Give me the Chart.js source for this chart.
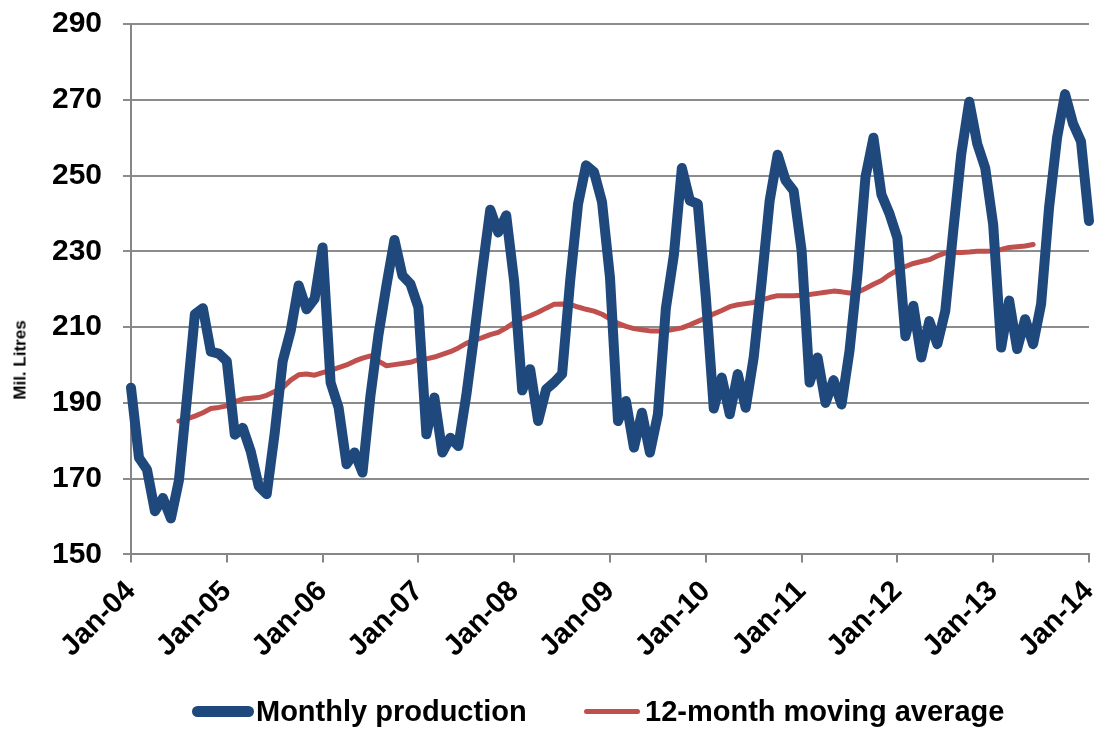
<!DOCTYPE html>
<html>
<head>
<meta charset="utf-8">
<script src="https://cdn.jsdelivr.net/npm/chart.js@4"></script>
<style>
  html, body { margin: 0; padding: 0; background: #fff; }
  #wrap { position: relative; width: 1101px; height: 731px; }
  .txt { position: absolute; font-family: 'Liberation Sans', Arial, sans-serif; font-weight: bold; color: #000; white-space: nowrap; }
  .legend { font-size: 29px; line-height: 29px; }
  .ytitle { font-size: 17px; line-height: 17px; left: 20px; top: 360px; transform: translate(-50%, -50%) rotate(-90deg); }
  .swatch { position: absolute; border-radius: 6px; }
</style>
</head>
<body>
<div id="wrap">
  <canvas id="prodChart" width="1101" height="731"></canvas>
  <span class="txt ytitle">Mil. Litres</span>
  <span class="swatch" style="left:192px; top:706px; width:62px; height:11px; background:#1f497d;"></span>
  <span class="txt legend" style="left:256px; top:697px;">Monthly production</span>
  <span class="swatch" style="left:584px; top:708.5px; width:56px; height:5px; background:#c0504d;"></span>
  <span class="txt legend" style="left:645px; top:697px;">12-month moving average</span>
</div>
<script>
// Monthly production, Jan-04 .. Jan-14
const monthNames = ['Jan','Feb','Mar','Apr','May','Jun','Jul','Aug','Sep','Oct','Nov','Dec'];
const months = [];
for (let y = 4; y <= 14; y++) {
    for (let m = 0; m < 12; m++) {
        if (y === 14 && m > 0) break;
        months.push(monthNames[m] + '-' + String(y).padStart(2, '0'));
    }
}

const production = [
    194, 175.5, 172.4, 161.4, 164.9, 159.5, 169.5, 191, 213.4, 215, 203.5, 203,
    201, 181.6, 183.4, 177.2, 168, 165.9, 182, 201, 209, 221, 214.7, 217.5,
    231, 195.4, 188.8, 173.8, 176.9, 171.6, 192, 208, 221, 233, 223.6, 221.4,
    215.2, 181.7, 191.4, 176.9, 180.8, 178.6, 192, 208, 225, 241, 235, 239.5,
    222, 193.3, 198.9, 185.2, 193.6, 195.4, 197.6, 222, 242.5, 252.7, 250.9, 243,
    223, 185.2, 190.5, 178.2, 187.4, 176.9, 187, 215, 229, 252, 243.4, 242.5,
    218, 188.5, 196.7, 187, 197.6, 188.7, 202, 222, 243.4, 255.5, 248.7, 246,
    230.2, 195.4, 202, 190, 196, 189.6, 203.7, 224, 249.6, 260, 245, 240,
    233.5, 207.6, 215.6, 202, 211.6, 205.5, 214.3, 235.5, 255.7, 269.5, 258.4, 252,
    237, 204.6, 217, 204.2, 212.1, 205.5, 216.1, 241.6, 260, 271.5, 263.7, 259,
    238
];

const movingAvg = [
    null, null, null, null, null, null, 185.2, 185.8, 186.5, 187.4, 188.5, 188.8,
    189.2, 190.3, 191, 191.2, 191.4, 192, 193, 194, 196, 197.4, 197.6, 197.3,
    198, 198.6, 199.3, 200, 201, 201.8, 202.4, 201, 199.8, 200.1, 200.4, 200.7,
    201.4, 201.6, 202.1, 202.8, 203.5, 204.5, 205.7, 206.5, 207.2, 208, 208.6, 209.8,
    211.2, 212.2, 213, 213.9, 215, 216, 216.1, 216, 215.3, 214.7, 214.2, 213.4,
    212.2, 211, 210.2, 209.6, 209.3, 209, 209, 209, 209.4, 209.8, 210.6, 211.5,
    212.4, 213.5, 214.4, 215.4, 215.9, 216.2, 216.5, 217.2, 217.8, 218.3, 218.3, 218.3,
    218.4, 218.6, 218.9, 219.2, 219.5, 219.3, 219, 219.2, 220.2, 221.3, 222.3, 223.8,
    225, 226, 226.8, 227.3, 227.8, 228.8, 229.6, 229.7, 229.7, 229.8, 230, 230,
    230.1, 230.5, 231, 231.2, 231.4, 231.8, null, null, null, null, null, null,
    null
];

const yTicks = [150, 170, 190, 210, 230, 250, 270, 290];

const font = "'Liberation Sans', Arial, sans-serif";
const axisGrey = '#868686';

const ctx = document.getElementById('prodChart').getContext('2d');
new Chart(ctx, {
    type: 'line',
    data: {
        labels: months,
        datasets: [
            {
                label: 'Monthly production',
                data: production,
                borderColor: '#1f497d',
                borderWidth: 10,
                borderJoinStyle: 'round',
                borderCapStyle: 'round',
                pointRadius: 0,
                tension: 0,
                fill: false
            },
            {
                label: '12-month moving average',
                data: movingAvg,
                borderColor: '#c0504d',
                borderWidth: 5,
                borderJoinStyle: 'round',
                borderCapStyle: 'round',
                pointRadius: 0,
                tension: 0,
                fill: false
            }
        ]
    },
    options: {
        responsive: false,
        animation: false,
        layout: { padding: { top: 24, right: 12, left: 6, bottom: 55 } },
        plugins: {
            legend: { display: false },
            tooltip: { enabled: false }
        },
        scales: {
            x: {
                offset: false,
                grid: { display: true, drawOnChartArea: false, color: axisGrey, lineWidth: 2, tickLength: 8 },
                border: { color: axisGrey, width: 2 },
                afterFit: function (scale) { scale.paddingLeft = 0; scale.paddingRight = 0; },
                ticks: {
                    autoSkip: false,
                    maxRotation: 45,
                    minRotation: 45,
                    color: '#000',
                    padding: 12,
                    font: { family: font, size: 29, weight: 'bold' },
                    callback: function (val, i) { return i % 12 === 0 ? months[i] : null; }
                }
            },
            y: {
                min: 150,
                max: 290,
                afterBuildTicks: function (scale) { scale.ticks = yTicks.map(v => ({ value: v })); },
                afterFit: function (scale) { scale.width = 125; scale.paddingTop = 0; scale.paddingBottom = 0; },
                grid: { color: '#8c8c8c', lineWidth: 2, tickLength: 8 },
                border: { color: axisGrey, width: 2 },
                ticks: {
                    color: '#000',
                    padding: 21,
                    font: { family: font, size: 30, weight: 'bold' }
                }
            }
        }
    }
});
</script>
</body>
</html>
